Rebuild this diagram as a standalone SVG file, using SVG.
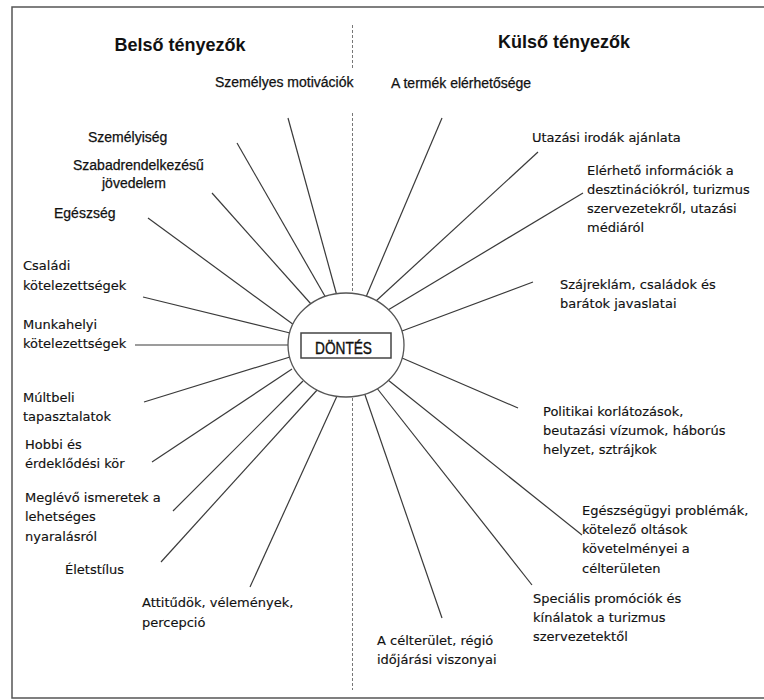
<svg xmlns="http://www.w3.org/2000/svg" width="764" height="700" viewBox="0 0 764 700">
<style>
.a{font-family:"Liberation Sans",Arial,sans-serif;font-size:14px;fill:#111;stroke:#111;stroke-width:0.25}
.b{font-family:"DejaVu Sans",Verdana,sans-serif;font-size:13px;fill:#111;stroke:#111;stroke-width:0.15}
.h{font-family:"Liberation Sans",Arial,sans-serif;font-size:18px;font-weight:bold;fill:#111}
.sp line{stroke:#3a3a3a;stroke-width:1.2}
.dash{stroke:#777;stroke-width:1;stroke-dasharray:3 2;fill:none}
</style>
<rect x="0" y="0" width="764" height="700" fill="#fff"/>
<rect x="12" y="7" width="770" height="691" fill="none" stroke="#555" stroke-width="1.5"/>
<g id="divider">
<line class="dash" x1="352.5" y1="25" x2="352.5" y2="70"/>
<line class="dash" x1="352.5" y1="113" x2="352.5" y2="690"/>
</g>
<g id="headers">
<text class="h" x="180" y="51" text-anchor="middle">Belső tényezők</text>
<text class="h" x="564" y="48" text-anchor="middle">Külső tényezők</text>
</g>
<g id="connectors" class="sp">
<line x1="288" y1="118" x2="337" y2="296"/>
<line x1="237" y1="143" x2="326" y2="298"/>
<line x1="212" y1="193" x2="311" y2="304"/>
<line x1="148" y1="218" x2="294" y2="325"/>
<line x1="143" y1="297" x2="290" y2="333"/>
<line x1="135" y1="345" x2="290" y2="345"/>
<line x1="144" y1="402" x2="290" y2="357"/>
<line x1="152" y1="462" x2="292" y2="369"/>
<line x1="173" y1="511" x2="303" y2="381"/>
<line x1="161" y1="562" x2="318" y2="389"/>
<line x1="250" y1="587" x2="337" y2="396"/>
<line x1="442" y1="118" x2="366" y2="297"/>
<line x1="538" y1="152" x2="376" y2="301"/>
<line x1="583" y1="193" x2="388" y2="310"/>
<line x1="533" y1="282" x2="402" y2="331"/>
<line x1="518" y1="408" x2="402" y2="358"/>
<line x1="582" y1="535" x2="388" y2="380"/>
<line x1="532" y1="585" x2="376" y2="387"/>
<line x1="442" y1="618" x2="364" y2="392"/>
</g>
<g id="dontes">
<ellipse cx="346" cy="345" rx="58" ry="52" fill="#fff" stroke="#555" stroke-width="1.3"/>
<rect x="301" y="333" width="90" height="25" fill="none" stroke="#444" stroke-width="1.5"/>
<text x="315" y="354" font-family="Liberation Sans, Arial, sans-serif" font-size="17" fill="#111" stroke="#111" stroke-width="0.4" textLength="57" lengthAdjust="spacingAndGlyphs">DÖNTÉS</text>
</g>
<g id="szemelyes-motivaciok"><text class="a" x="215" y="87">Személyes motivációk</text></g>
<g id="szemelyiseg"><text class="a" x="88" y="142">Személyiség</text></g>
<g id="szabadrendelkezesu"><text class="a" x="73" y="170">Szabadrendelkezésű</text><text class="a" x="102" y="188">jövedelem</text></g>
<g id="egeszseg"><text class="a" x="54" y="218">Egészség</text></g>
<g id="csaladi"><text class="b" x="23" y="270">Családi</text><text class="b" x="23" y="290">kötelezettségek</text></g>
<g id="munkahelyi"><text class="b" x="23" y="329">Munkahelyi</text><text class="b" x="23" y="348">kötelezettségek</text></g>
<g id="multbeli"><text class="b" x="23" y="402">Múltbeli</text><text class="b" x="23" y="421">tapasztalatok</text></g>
<g id="hobbi"><text class="b" x="25" y="449">Hobbi és</text><text class="b" x="25" y="468">érdeklődési kör</text></g>
<g id="meglevo"><text class="b" x="25" y="502">Meglévő ismeretek a</text><text class="b" x="25" y="521">lehetséges</text><text class="b" x="25" y="541">nyaralásról</text></g>
<g id="eletstilus"><text class="b" x="65" y="574">Életstílus</text></g>
<g id="attitudok"><text class="b" x="142" y="607">Attitűdök, vélemények,</text><text class="b" x="142" y="627">percepció</text></g>
<g id="termek"><text class="a" x="391" y="88">A termék elérhetősége</text></g>
<g id="utazasi"><text class="b" x="532" y="142">Utazási irodák ajánlata</text></g>
<g id="elerheto"><text class="b" x="587" y="175">Elérhető információk a</text><text class="b" x="587" y="194">desztinációkról, turizmus</text><text class="b" x="587" y="213">szervezetekről, utazási</text><text class="b" x="587" y="232">médiáról</text></g>
<g id="szajreklam"><text class="b" x="560" y="289">Szájreklám, családok és</text><text class="b" x="560" y="308">barátok javaslatai</text></g>
<g id="politikai"><text class="b" x="543" y="416">Politikai korlátozások,</text><text class="b" x="543" y="435">beutazási vízumok, háborús</text><text class="b" x="543" y="454">helyzet, sztrájkok</text></g>
<g id="egeszsegugyi"><text class="b" x="582" y="515">Egészségügyi problémák,</text><text class="b" x="582" y="534">kötelező oltások</text><text class="b" x="582" y="553">követelményei a</text><text class="b" x="582" y="573">célterületen</text></g>
<g id="specialis"><text class="b" x="533" y="603">Speciális promóciók és</text><text class="b" x="533" y="622">kínálatok a turizmus</text><text class="b" x="533" y="641">szervezetektől</text></g>
<g id="celterulet"><text class="b" x="377" y="645">A célterület, régió</text><text class="b" x="377" y="664">időjárási viszonyai</text></g>
</svg>
